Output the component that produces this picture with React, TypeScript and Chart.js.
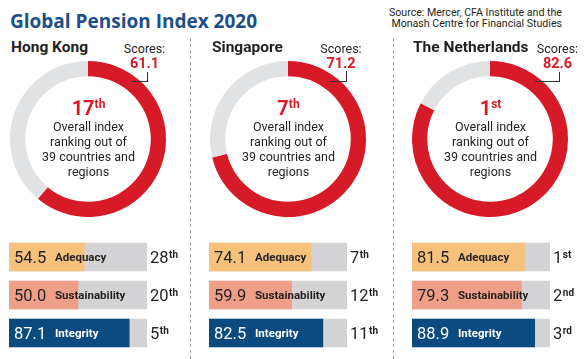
import React, { useEffect, useRef } from "react";
import { Chart, registerables } from "chart.js";

Chart.register(...registerables);

// ---------- data ----------
const regions = ["Hong Kong", "Singapore", "The Netherlands"];
const overallScores = [61.1, 71.2, 82.6];
const overallRanks = [17, 7, 1];
const subIndexLabels = ["Adequacy", "Sustainability", "Integrity"];
const adequacyScores = [54.5, 74.1, 81.5];
const sustainabilityScores = [50.0, 59.9, 79.3];
const integrityScores = [87.1, 82.5, 88.9];
const adequacyRanks = [28, 7, 1];
const sustainabilityRanks = [20, 12, 2];
const integrityRanks = [5, 11, 3];
const scoreMax = 100;
const titleText = "Global Pension Index 2020";
const sourceLines = ["Source: Mercer, CFA Institute and the", "Monash Centre for Financial Studies"];
const centerLines = ["Overall index", "ranking out of", "39 countries and", "regions"];
const scoresLabel = "Scores:";

// ---------- style ----------
const RED = "#d71a28";
const RING_GREY = "#e1e2e4";
const BAR_GREY = "#d3d3d5";
const BAR_COLORS = ["#f6c27b", "#ef9f87", "#0b4a7e"];
const TEXT = "#231f20";
const TITLE_BLUE = "#1c4f8a";
const ROBOTO = "Roboto, 'Liberation Sans', sans-serif";
const OPEN = "'Open Sans', Roboto, sans-serif";

// per-panel anchors
const ringCx = [88, 288, 490];
const ringCy = 139;
const ringSize = 156;
const barLeft = [9, 209, 412];
const barWidth = 138;
const barTop = 238;
const nameX = [11, 212, 413];
const scoresCx = [144.5, 341, 557.5];
const leaderX1 = [132, 330, 535];
const leaderX2 = [147, 346, 559];
const leaderTop = [72, 71, 72];
const leaderY = 81;
const separators = [190, 393];

function suffix(n: number) {
  const m100 = n % 100;
  if (m100 >= 11 && m100 <= 13) return "th";
  const m = n % 10;
  if (m === 1) return "st";
  if (m === 2) return "nd";
  if (m === 3) return "rd";
  return "th";
}

function Txt(props: {
  x: number;
  base: number;
  size: number;
  weight?: number;
  family?: string;
  color?: string;
  align?: "left" | "center" | "right";
  k?: number;
  children: React.ReactNode;
}) {
  const { x, base, size, weight = 400, family = ROBOTO, color = TEXT, align = "left", k = 0.842 } = props;
  const style: React.CSSProperties = {
    position: "absolute",
    top: base - k * size,
    lineHeight: size + "px",
    height: size,
    fontSize: size,
    fontWeight: weight,
    fontFamily: family,
    color,
    whiteSpace: "nowrap",
  };
  if (align === "left") style.left = x;
  else if (align === "center") {
    style.left = x - 150;
    style.width = 300;
    style.textAlign = "center";
  } else {
    style.left = x - 300;
    style.width = 300;
    style.textAlign = "right";
  }
  return <div style={style}>{props.children}</div>;
}

function Ring({ score, cx }: { score: number; cx: number }) {
  const ref = useRef<HTMLCanvasElement>(null);
  useEffect(() => {
    const chart = new Chart(ref.current!, {
      type: "doughnut",
      data: {
        labels: ["Score", "Remainder"],
        datasets: [
          {
            data: [score, scoreMax - score],
            backgroundColor: [RED, RING_GREY],
            borderWidth: 0,
            hoverOffset: 0,
          },
        ],
      },
      options: {
        responsive: false,
        animation: false,
        devicePixelRatio: 1,
        cutout: "80.5%",
        events: [],
        layout: { padding: 0 },
        plugins: { legend: { display: false }, tooltip: { enabled: false } },
      },
    });
    return () => chart.destroy();
  }, [score]);
  return (
    <canvas
      ref={ref}
      width={ringSize}
      height={ringSize}
      style={{ position: "absolute", left: cx - ringSize / 2, top: ringCy - ringSize / 2, width: ringSize, height: ringSize }}
    />
  );
}

function Bars({ values, ranks, left }: { values: number[]; ranks: number[]; left: number }) {
  const ref = useRef<HTMLCanvasElement>(null);
  const padRight = 40;
  const w = barWidth + padRight;
  const h = 114;
  useEffect(() => {
    const textPlugin = {
      id: "barText",
      afterDatasetsDraw(chart: any) {
        const ctx = chart.ctx as CanvasRenderingContext2D;
        const meta = chart.getDatasetMeta(0);
        const xs = chart.scales.x;
        const area = chart.chartArea;
        meta.data.forEach((bar: any, i: number) => {
          const y = bar.y;
          ctx.save();
          ctx.textBaseline = "alphabetic";
          ctx.textAlign = "left";
          const onDark = i === 2;
          ctx.fillStyle = onDark ? "#ffffff" : TEXT;
          ctx.font = "16.5px Roboto";
          ctx.fillText(values[i].toFixed(1), area.left + 5, y + 6.3);
          ctx.font = "bold 11.5px Roboto";
          ctx.fillText(subIndexLabels[i], area.left + 46, y + 4);
          const rx = xs.getPixelForValue(scoreMax) + 3;
          ctx.fillStyle = TEXT;
          ctx.font = "16.5px Roboto";
          const num = String(ranks[i]);
          ctx.fillText(num, rx, y + 6.3);
          const nw = ctx.measureText(num).width;
          ctx.font = "bold 10px Roboto";
          ctx.fillText(suffix(ranks[i]), rx + nw + 0.5, y + 1);
          ctx.restore();
        });
      },
    };
    const chart = new Chart(ref.current!, {
      type: "bar",
      data: {
        labels: subIndexLabels,
        datasets: [
          {
            label: "Score",
            data: values,
            backgroundColor: BAR_COLORS,
            barThickness: 28,
            grouped: false,
            order: 0,
            borderWidth: 0,
          },
          {
            label: "Max",
            data: values.map(() => scoreMax),
            backgroundColor: BAR_GREY,
            barThickness: 28,
            grouped: false,
            order: 1,
            borderWidth: 0,
          },
        ],
      },
      options: {
        indexAxis: "y",
        responsive: false,
        animation: false,
        devicePixelRatio: 1,
        events: [],
        layout: { padding: { left: 0, top: 0, bottom: 0, right: padRight } },
        scales: {
          x: { min: 0, max: scoreMax, display: false },
          y: { display: false },
        },
        plugins: { legend: { display: false }, tooltip: { enabled: false } },
      },
      plugins: [textPlugin],
    });
    return () => chart.destroy();
  }, [values, ranks]);
  return (
    <canvas
      ref={ref}
      width={w}
      height={h}
      style={{ position: "absolute", left, top: barTop, width: w, height: h }}
    />
  );
}

export default function App() {
  return (
    <div
      style={{
        position: "fixed",
        left: 0,
        top: 0,
        width: 586,
        height: 359,
        background: "#ffffff",
        overflow: "hidden",
      }}
    >
      <Txt x={10} base={28.5} size={19} weight={700} family={OPEN} color={TITLE_BLUE} k={0.888}>
        {titleText}
      </Txt>
      {sourceLines.map((s, i) => (
        <Txt key={s} x={562} base={16.5 + i * 11.6} size={10.6} align="right">
          {s}
        </Txt>
      ))}
      {separators.map((x) => (
        <div
          key={x}
          style={{
            position: "absolute",
            left: x,
            top: 38,
            width: 1,
            height: 321,
            backgroundImage: "repeating-linear-gradient(to bottom, #a3a3a3 0px, #a3a3a3 3px, transparent 3px, transparent 6px)",
          }}
        />
      ))}
      {regions.map((r, p) => {
        const values = [adequacyScores[p], sustainabilityScores[p], integrityScores[p]];
        const ranks = [adequacyRanks[p], sustainabilityRanks[p], integrityRanks[p]];
        return (
          <React.Fragment key={r}>
            <Txt x={nameX[p]} base={52.8} size={15.5} weight={700}>
              {r}
            </Txt>
            <Txt x={scoresCx[p]} base={53.2} size={12.5} align="center">
              {scoresLabel}
            </Txt>
            <Ring score={overallScores[p]} cx={ringCx[p]} />
            <Txt x={scoresCx[p]} base={69.3} size={14.5} weight={700} color={RED} align="center">
              {overallScores[p].toFixed(1)}
            </Txt>
            <div
              style={{
                position: "absolute",
                left: leaderX1[p],
                top: leaderY,
                width: leaderX2[p] - leaderX1[p] + 1,
                height: 1,
                background: "#333",
              }}
            />
            <div
              style={{
                position: "absolute",
                left: leaderX2[p],
                top: leaderTop[p],
                width: 1,
                height: leaderY - leaderTop[p],
                background: "#333",
              }}
            />
            <Txt x={ringCx[p] + 0.5} base={115} size={20} weight={700} color={RED} align="center">
              {overallRanks[p]}
              <span style={{ fontSize: 12, position: "relative", top: -7 }}>{suffix(overallRanks[p])}</span>
            </Txt>
            {centerLines.map((l, i) => (
              <Txt key={l} x={ringCx[p] + 0.5} base={131.7 + i * 14.8} size={12.5} align="center">
                {l}
              </Txt>
            ))}
            <Bars values={values} ranks={ranks} left={barLeft[p]} />
          </React.Fragment>
        );
      })}
    </div>
  );
}
